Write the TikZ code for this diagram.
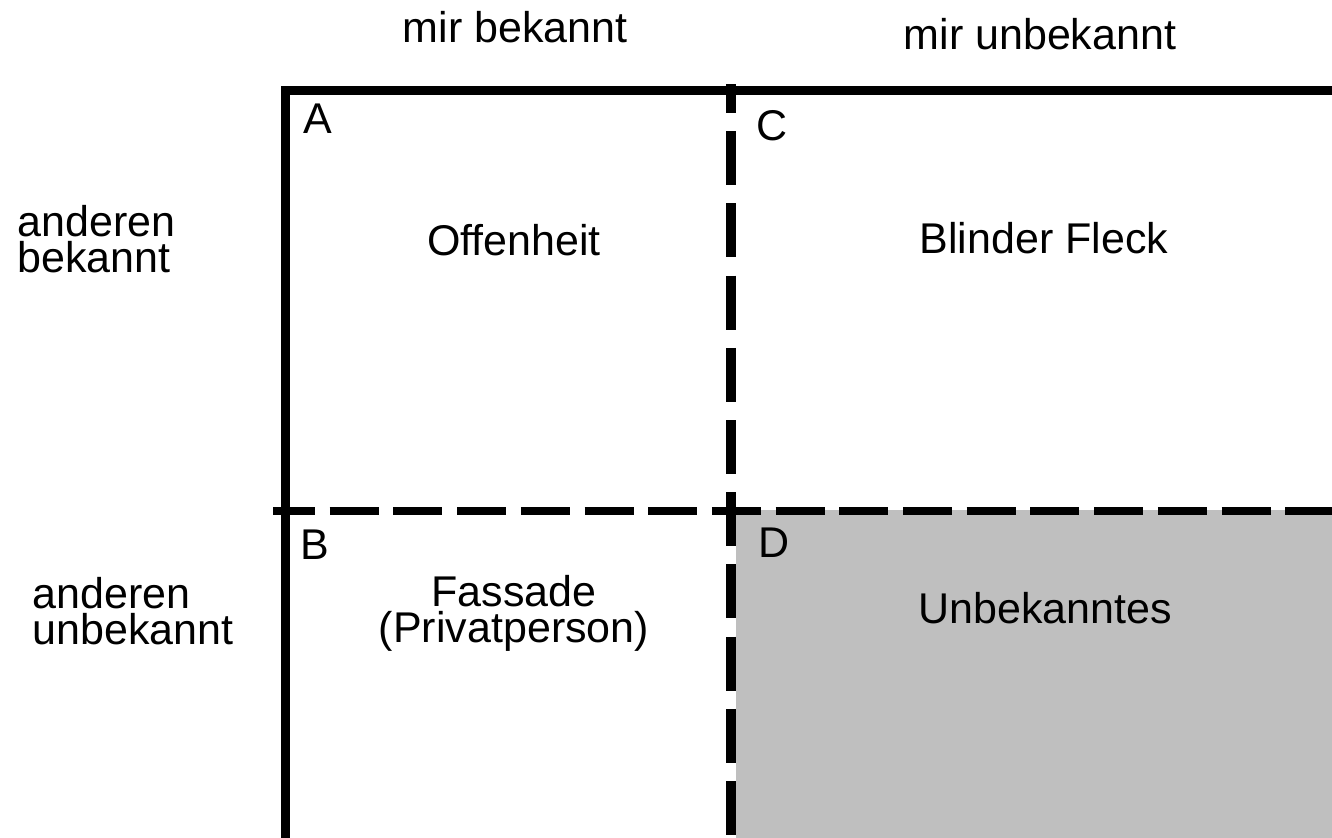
\documentclass[tikz,border=0pt]{standalone}
\usepackage{fontspec}
\setmainfont{Liberation Sans}
\definecolor{hiddengray}{gray}{0.75}
\tikzset{
    frame/.style={line width=4.5pt},
    hdivider/.style={line width=4pt, dash pattern=on 24.5pt off 7.35pt, dash phase=3.5pt},
    vdivider/.style={line width=5pt, dash pattern=on 27pt off 9.1pt, dash phase=12.5pt},
    label/.style={inner sep=0pt, anchor=base},
    corner/.style={inner sep=0pt, anchor=base west}
}

\begin{document}
\begin{tikzpicture}[x=0.5pt,y=-0.5pt,font=\fontsize{21.5}{17.9}\selectfont]

\clip (0,0) rectangle (1332,837);
\fill[white] (0,0) rectangle (1332,837);

% Unknown quadrant
\fill[hiddengray] (736,510) rectangle (1340,845);

% Frame
\draw[frame] (285,850) -- (285,90) -- (1340,90);

% Dividers
\draw[hdivider] (273,511) -- (1340,511);
\draw[vdivider] (731,84) -- (731,850);

% Column and row headings (two-line nodes sit on their last line)
\node[label] (colknown) at (515,42) {mir bekannt};
\node[label] (colunknown) at (1040,49) {mir unbekannt};
\node[corner,align=left] (rowknown) at (17,272) {anderen\\bekannt};
\node[corner,align=left] (rowunknown) at (32,644) {anderen\\unbekannt};

% Quadrant letters
\node[corner] (cornerA) at (303,133) {A};
\node[corner] (cornerC) at (756,140) {C};
\node[corner] (cornerB) at (300,559) {B};
\node[corner] (cornerD) at (758,557) {D};

% Quadrant names
\node[label] (open) at (514,255) {Offenheit};
\node[label] (blind) at (1044,253) {Blinder Fleck};
\node[label,align=center] (facade) at (514,642) {Fassade\\(Privatperson)};
\node[label] (hidden) at (1045,623) {Unbekanntes};

\end{tikzpicture}
\end{document}
